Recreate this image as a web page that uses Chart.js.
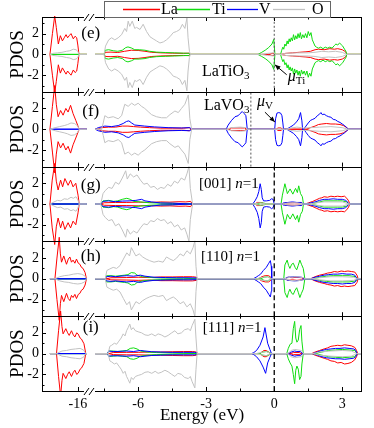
<!DOCTYPE html>
<html lang="en">
<head>
<meta charset="UTF-8">
<title>PDOS</title>
<script src="https://cdn.jsdelivr.net/npm/chart.js"></script>
<style>
  body { margin: 0; background: #fff; }
  #wrap { width: 374px; height: 428px; }
</style>
</head>
<body>
<div id="wrap"><canvas id="pdosChart" width="374" height="428"></canvas></div>
<script>
// ---- data: [energy (eV), spin-up PDOS]; spin-down is the mirror unless a *Dn fix is given ----
const panels = ['e', 'f', 'g', 'h', 'i'];
const speciesNames = ['La', 'Ti', 'V', 'O'];
const xTickValues = [-16, -6, -3, 0, 3];
const xMinorValues = [-7.5, -4.5, -1.5, 1.5];
const yTickValues = [-3, -2, -1, 0, 1, 2, 3];
const yLabelled = [-2, 0, 2];
const fermiLines = [['e', 0, 'dot'], ['f', -1.03, 'dot'], ['g', 0, 'dash'], ['h', 0, 'dash'], ['i', 0, 'dash']];

// (e) LaTiO3
const laE = [[-17.23,0],[-17.12,2.0],[-17.02,3.7],[-16.95,2.6],[-16.86,1.0],[-16.77,1.8],[-16.68,1.3],[-16.6,1.6],[-16.52,1.9],[-16.45,1.6],[-16.38,1.8],[-16.3,2.0],[-16.2,1.5],[-16.12,1.75],[-16.05,1.6],[-16.0,0.9],[-15.95,0],
  [-7.5,0],[-7.44,0.2],[-7.2,0.22],[-6.9,0.18],[-6.6,0.3],[-6.3,0.4],[-6.0,0.38],[-5.7,0.3],[-5.4,0.2],[-5.0,0.15],[-4.5,0.12],[-4.0,0.1],[-3.76,0.12],[-3.7,0],
  [-0.25,0],[-0.1,0.1],[0.0,0.1],[0.04,0],
  [0.3,0],[0.5,0.1],[0.8,0.15],[1.1,0.2],[1.4,0.25],[1.6,0.3],[1.8,0.45],[1.95,0.5],[2.2,0.45],[2.45,0.55],[2.65,0.5],[2.8,0.55],[3.0,0.45],[3.15,0.25],[3.2,0]];
const tiE = [[-7.5,0],[-7.45,0.4],[-7.3,0.45],[-7.1,0.35],[-6.9,0.3],[-6.7,0.4],[-6.55,0.65],[-6.45,0.72],[-6.3,0.62],[-6.15,0.45],[-5.95,0.45],[-5.7,0.4],[-5.5,0.3],[-5.2,0.22],[-4.8,0.18],[-4.4,0.15],[-4.0,0.12],[-3.76,0.1],[-3.7,0],
  [-0.72,0],[-0.55,0.2],[-0.4,0.4],[-0.25,0.65],[-0.1,1.0],[-0.02,1.45],[0.03,0],
  [0.28,0],[0.33,0.4],[0.38,0.7],[0.42,0.5],[0.47,1.0],[0.52,0.8],[0.57,1.3],[0.61,1.0],[0.66,1.5],[0.7,1.2],[0.75,1.6],[0.8,1.3],[0.85,1.9],[0.9,1.4],[0.95,1.8],[1.0,1.5],[1.05,2.0],[1.1,1.6],[1.15,2.1],[1.2,1.5],[1.26,1.9],[1.32,1.6],[1.38,2.0],[1.44,1.6],[1.5,2.2],[1.56,1.8],[1.62,2.1],[1.68,1.4],[1.74,1.1],[1.8,0.8],[1.86,0.7],[1.95,0.6],[2.05,0.7],[2.15,0.55],[2.25,0.7],[2.35,0.6],[2.45,0.7],[2.55,0.6],[2.65,0.85],[2.72,1.0],[2.8,0.9],[2.88,1.1],[2.95,0.95],[3.02,0.8],[3.1,0.5],[3.16,0.3],[3.2,0]];
const oE = [[-17.23,0],[-17.1,0.1],[-16.9,0.15],[-16.7,0.2],[-16.5,0.3],[-16.35,0.35],[-16.2,0.5],[-16.08,0.45],[-16.0,0.3],[-15.95,0],
  [-7.5,0],[-7.44,0.8],[-7.3,1.4],[-7.17,1.6],[-7.03,1.4],[-6.88,1.6],[-6.73,1.9],[-6.59,2.5],[-6.51,2.2],[-6.44,3.2],[-6.37,2.7],[-6.26,3.2],[-6.15,2.5],[-6.07,2.6],[-5.92,2.4],[-5.78,2.9],[-5.63,2.2],[-5.48,1.7],[-5.34,1.5],[-5.19,1.3],[-5.04,1.1],[-4.89,1.2],[-4.75,1.4],[-4.6,1.7],[-4.45,2.1],[-4.31,2.2],[-4.16,2.4],[-4.05,2.9],[-3.94,2.5],[-3.85,3.5],[-3.8,1.6],[-3.74,0.3],[-3.7,0],
  [-0.6,0],[-0.3,0.1],[0.0,0.15],[0.04,0],
  [0.3,0],[0.5,0.1],[1.0,0.15],[1.5,0.15],[1.8,0.2],[2.1,0.3],[2.4,0.25],[2.7,0.3],[3.0,0.2],[3.2,0]];

// (f) LaVO3
const laF = [[-17.23,0],[-17.12,2.2],[-17.02,4.2],[-16.95,2.4],[-16.87,1.2],[-16.76,1.8],[-16.65,1.35],[-16.53,2.0],[-16.43,1.65],[-16.32,2.3],[-16.21,1.5],[-16.09,0.85],[-15.94,0],
  [-7.8,0],[-7.6,0.15],[-7.3,0.2],[-7.0,0.2],[-6.7,0.3],[-6.45,0.3],[-6.2,0.25],[-5.9,0.2],[-5.5,0.15],[-5.0,0.1],[-4.5,0.1],[-4.0,0.1],[-3.75,0.15],[-3.68,0],
  [-2.0,0],[-1.9,0.12],[-1.5,0.12],[-1.3,0.12],[-1.22,0],
  [0.1,0],[0.15,0.12],[0.3,0.12],[0.36,0],
  [1.4,0],[1.6,0.15],[1.8,0.3],[1.95,0.45],[2.1,0.5],[2.3,0.55],[2.5,0.5],[2.7,0.5],[2.9,0.45],[3.05,0.35],[3.2,0.15],[3.27,0]];
const vF = [[-7.9,0],[-7.76,0.15],[-7.47,0.3],[-7.17,0.25],[-6.88,0.35],[-6.66,0.55],[-6.51,0.75],[-6.41,0.8],[-6.29,0.6],[-6.15,0.4],[-5.71,0.3],[-5.27,0.22],[-4.68,0.15],[-4.09,0.12],[-3.72,0.15],[-3.64,0],
  [-2.12,0],[-2.03,0.4],[-1.88,0.85],[-1.73,1.2],[-1.59,1.3],[-1.51,1.5],[-1.41,1.7],[-1.32,1.5],[-1.25,1.3],[-1.19,0],
  [0.02,0],[0.06,1.0],[0.12,1.55],[0.2,1.6],[0.28,1.55],[0.34,1.3],[0.38,0.6],[0.41,0],
  [0.55,0],[0.7,0.2],[0.85,0.4],[0.98,0.7],[1.08,1.0],[1.16,1.6],[1.22,0.8],[1.25,0],
  [1.3,0],[1.4,0.3],[1.5,0.6],[1.6,0.85],[1.7,0.95],[1.8,1.05],[1.9,1.3],[2.0,1.45],[2.06,1.6],[2.12,1.4],[2.2,1.45],[2.3,1.3],[2.4,1.2],[2.5,1.15],[2.6,0.95],[2.7,0.9],[2.8,0.75],[2.9,0.65],[3.0,0.5],[3.1,0.35],[3.2,0.15],[3.27,0]];
const oF = [[-17.23,0],[-17.0,0.15],[-16.8,0.25],[-16.6,0.35],[-16.45,0.45],[-16.3,0.6],[-16.15,0.55],[-16.02,0.35],[-15.94,0],
  [-7.61,0],[-7.54,0.6],[-7.47,1.3],[-7.32,1.1],[-7.1,1.2],[-6.88,1.0],[-6.73,1.3],[-6.59,2.4],[-6.44,2.2],[-6.29,2.5],[-6.15,2.3],[-6.0,2.5],[-5.85,2.2],[-5.71,2.0],[-5.56,1.7],[-5.41,1.4],[-5.19,1.2],[-4.97,1.1],[-4.75,1.1],[-4.6,1.4],[-4.38,1.75],[-4.23,1.6],[-4.09,2.0],[-3.94,2.4],[-3.79,3.3],[-3.72,1.0],[-3.64,0],
  [-2.1,0],[-1.9,0.15],[-1.5,0.2],[-1.25,0.15],[-1.2,0],
  [0.5,0],[0.7,0.1],[1.0,0.2],[1.2,0.15],[1.3,0.1],[1.6,0.15],[2.0,0.2],[2.5,0.25],[3.0,0.15],[3.25,0]];

// (g) [001] n=1
const laG = [[-17.23,0],[-17.13,2.3],[-17.02,3.9],[-16.95,2.2],[-16.87,1.35],[-16.76,2.3],[-16.67,1.65],[-16.57,2.45],[-16.43,1.8],[-16.32,2.3],[-16.21,1.65],[-16.09,2.0],[-15.99,0.85],[-15.94,0],
  [-7.65,0],[-7.5,0.12],[-7.0,0.15],[-6.5,0.15],[-6.0,0.18],[-5.5,0.15],[-5.0,0.2],[-4.6,0.18],[-4.2,0.22],[-3.9,0.2],[-3.68,0.25],[-3.62,0],
  [-0.85,0],[-0.75,0.15],[-0.6,0.15],[-0.5,0.12],[-0.45,0],
  [0.4,0],[0.5,0.1],[0.9,0.12],[1.2,0.1],[1.28,0],
  [1.35,0],[1.5,0.1],[1.7,0.25],[1.85,0.4],[2.0,0.55],[2.1,0.6],[2.2,0.7],[2.35,0.65],[2.5,0.75],[2.65,0.7],[2.8,0.75],[2.95,0.7],[3.1,0.75],[3.2,0.55],[3.28,0.3],[3.33,0]];
const tiG = [[-7.65,0],[-7.55,0.3],[-7.3,0.35],[-7.1,0.25],[-6.9,0.3],[-6.7,0.45],[-6.5,0.55],[-6.35,0.45],[-6.2,0.25],[-5.9,0.2],[-5.5,0.12],[-5.0,0.08],[-4.5,0.06],[-3.62,0],
  [-0.8,0],[-0.6,0.12],[-0.45,0.08],[-0.3,0],
  [0.3,0],[0.36,0.85],[0.47,1.95],[0.58,1.0],[0.7,1.45],[0.82,0.95],[0.94,1.5],[1.02,1.1],[1.08,1.75],[1.16,1.0],[1.24,0.7],[1.29,0],
  [1.5,0],[1.8,0.1],[2.0,0.2],[2.2,0.3],[2.5,0.3],[2.8,0.3],[3.0,0.3],[3.2,0.2],[3.3,0]];
const vG = [[-7.65,0],[-7.55,0.25],[-7.3,0.3],[-7.0,0.22],[-6.7,0.28],[-6.4,0.3],[-6.1,0.35],[-5.85,0.45],[-5.7,0.3],[-5.4,0.2],[-5.0,0.1],[-4.5,0.08],[-3.62,0],
  [-0.95,0],[-0.85,0.3],[-0.75,0.7],[-0.68,1.2],[-0.62,1.95],[-0.57,1.4],[-0.53,0.6],[-0.47,0.3],[-0.35,0.3],[-0.2,0.35],[-0.12,0.5],[-0.05,0.45],[0.0,0],
  [0.33,0],[0.4,0.1],[0.6,0.15],[0.8,0.2],[1.0,0.15],[1.2,0.15],[1.28,0],
  [1.4,0],[1.6,0.1],[1.8,0.2],[2.0,0.35],[2.2,0.45],[2.4,0.45],[2.6,0.5],[2.8,0.45],[3.0,0.45],[3.15,0.35],[3.25,0.15],[3.31,0]];
const vGdn = [[-0.95,0],[-0.85,-0.35],[-0.75,-0.8],[-0.68,-1.4],[-0.62,-2.3],[-0.57,-1.8],[-0.53,-0.7],[-0.47,-0.3],[-0.35,-0.25],[-0.2,-0.3],[-0.12,-0.45],[-0.05,-0.35],[0.0,0]];
const oG = [[-17.23,0],[-17.05,0.2],[-16.9,0.35],[-16.75,0.3],[-16.6,0.5],[-16.45,0.45],[-16.3,0.65],[-16.2,0.55],[-16.08,0.7],[-16.0,0.4],[-15.94,0],
  [-7.65,0],[-7.55,1.0],[-7.45,1.3],[-7.3,1.6],[-7.15,1.5],[-7.0,2.1],[-6.85,1.9],[-6.7,2.5],[-6.55,3.2],[-6.48,2.4],[-6.35,2.9],[-6.2,2.6],[-6.05,2.8],[-5.9,2.3],[-5.75,1.9],[-5.6,2.0],[-5.45,1.6],[-5.3,1.7],[-5.15,1.4],[-5.0,1.6],[-4.85,1.5],[-4.7,1.9],[-4.55,1.7],[-4.4,2.2],[-4.25,2.0],[-4.1,2.5],[-3.95,2.3],[-3.85,2.9],[-3.76,3.6],[-3.7,1.5],[-3.6,0],
  [-0.9,0],[-0.7,0.1],[-0.5,0.08],[-0.4,0],
  [0.4,0],[0.6,0.1],[1.0,0.12],[1.28,0],
  [1.5,0],[1.8,0.1],[2.2,0.2],[2.6,0.2],[3.0,0.2],[3.3,0]];

// (h) [110] n=1
const laH = [[-17.01,0],[-16.92,2.0],[-16.82,4.0],[-16.77,2.4],[-16.72,1.6],[-16.62,2.2],[-16.5,1.4],[-16.42,1.9],[-16.35,2.1],[-16.28,1.6],[-16.21,1.8],[-16.13,1.5],[-16.06,1.9],[-15.98,1.5],[-15.91,1.4],[-15.84,1.1],[-15.77,1.0],[-15.68,0.6],[-15.62,0],
  [-7.4,0],[-7.2,0.1],[-6.5,0.12],[-6.0,0.15],[-5.5,0.12],[-5.0,0.18],[-4.5,0.18],[-4.0,0.2],[-3.6,0.2],[-3.42,0.15],[-3.38,0],
  [-0.7,0],[-0.55,0.2],[-0.4,0.3],[-0.25,0.3],[-0.15,0.15],[-0.12,0],
  [0.5,0],[0.6,0.15],[0.8,0.1],[1.0,0.15],[1.2,0.1],[1.3,0],
  [1.6,0],[1.8,0.2],[2.0,0.35],[2.2,0.45],[2.35,0.55],[2.5,0.6],[2.65,0.7],[2.8,0.65],[2.95,0.75],[3.1,0.7],[3.25,0.75],[3.4,0.7],[3.55,0.65],[3.65,0.35],[3.7,0]];
const tiH = [[-7.45,0],[-7.4,0.3],[-7.2,0.3],[-7.0,0.25],[-6.8,0.3],[-6.6,0.35],[-6.45,0.4],[-6.3,0.6],[-6.15,0.55],[-6.05,0.35],[-5.8,0.2],[-5.4,0.12],[-5.0,0.08],[-4.0,0.05],[-3.42,0],
  [-0.6,0],[-0.45,0.15],[-0.3,0.2],[-0.2,0.1],[-0.12,0],
  [0.42,0],[0.47,1.33],[0.57,1.8],[0.63,1.3],[0.69,1.0],[0.77,1.4],[0.84,1.5],[0.92,1.1],[0.99,0.86],[1.06,1.3],[1.13,1.8],[1.2,1.4],[1.28,1.0],[1.35,0],
  [1.7,0],[2.0,0.15],[2.3,0.25],[2.6,0.3],[3.0,0.3],[3.3,0.3],[3.6,0.2],[3.68,0]];
const vH = [[-7.45,0],[-7.4,0.2],[-7.2,0.25],[-7.0,0.2],[-6.8,0.25],[-6.5,0.3],[-6.2,0.25],[-5.9,0.35],[-5.7,0.25],[-5.3,0.15],[-4.8,0.12],[-4.3,0.1],[-3.8,0.1],[-3.42,0.08],[-3.38,0],
  [-0.93,0],[-0.8,0.15],[-0.7,0.3],[-0.6,0.45],[-0.48,0.8],[-0.35,1.1],[-0.24,1.5],[-0.17,1.75],[-0.13,1.2],[-0.11,0],
  [0.45,0],[0.6,0.15],[0.9,0.2],[1.2,0.15],[1.35,0],
  [1.6,0],[1.8,0.15],[2.0,0.25],[2.2,0.35],[2.4,0.4],[2.6,0.45],[2.8,0.45],[3.0,0.5],[3.2,0.45],[3.4,0.45],[3.55,0.35],[3.65,0]];
const oH = [[-17.01,0],[-16.8,0.2],[-16.6,0.3],[-16.4,0.35],[-16.2,0.45],[-16.0,0.5],[-15.85,0.45],[-15.7,0.3],[-15.62,0],
  [-7.45,0],[-7.38,0.8],[-7.25,0.95],[-7.1,1.1],[-6.95,1.0],[-6.8,1.27],[-6.65,1.9],[-6.5,2.5],[-6.38,2.2],[-6.3,3.0],[-6.2,2.6],[-6.1,2.2],[-5.95,2.4],[-5.8,2.1],[-5.65,1.9],[-5.5,1.75],[-5.3,1.6],[-5.1,1.7],[-4.9,1.6],[-4.75,2.1],[-4.6,1.9],[-4.45,1.75],[-4.3,2.0],[-4.15,2.4],[-4.0,2.2],[-3.85,2.7],[-3.7,2.4],[-3.58,3.0],[-3.5,3.65],[-3.45,1.2],[-3.4,0],
  [-0.8,0],[-0.5,0.15],[-0.3,0.2],[-0.12,0],
  [0.45,0],[0.7,0.15],[1.0,0.2],[1.3,0.1],[1.35,0],
  [1.65,0],[2.0,0.1],[2.5,0.2],[3.0,0.2],[3.5,0.15],[3.68,0]];

// (i) [111] n=1
const laI = [[-16.94,0],[-16.85,2.2],[-16.76,4.1],[-16.7,2.6],[-16.65,1.9],[-16.53,2.4],[-16.45,2.0],[-16.38,1.75],[-16.28,2.2],[-16.2,1.8],[-16.13,1.6],[-16.05,2.0],[-15.99,1.9],[-15.9,1.5],[-15.84,1.4],[-15.73,0.95],[-15.65,0],
  [-7.3,0],[-7.1,0.1],[-6.5,0.12],[-6.0,0.12],[-5.5,0.15],[-5.0,0.15],[-4.5,0.18],[-4.0,0.2],[-3.6,0.2],[-3.42,0.15],[-3.38,0],
  [-0.65,0],[-0.55,0.15],[-0.45,0.3],[-0.35,0.3],[-0.25,0.15],[-0.18,0],
  [0.7,0],[0.85,0.1],[1.1,0.1],[1.2,0],
  [1.65,0],[1.8,0.15],[2.0,0.3],[2.2,0.45],[2.35,0.55],[2.5,0.7],[2.65,0.75],[2.8,0.8],[2.95,0.75],[3.1,0.85],[3.25,0.8],[3.4,0.75],[3.55,0.6],[3.63,0.3],[3.68,0]];
const laIdn = [[2.8,-0.9],[2.95,-0.85],[3.1,-1.0],[3.25,-0.95],[3.4,-0.85]];
const tiI = [[-7.35,0],[-7.3,0.25],[-7.1,0.25],[-6.9,0.2],[-6.7,0.25],[-6.5,0.3],[-6.35,0.5],[-6.2,0.55],[-6.05,0.45],[-5.9,0.25],[-5.6,0.15],[-5.2,0.1],[-4.5,0.06],[-3.42,0],
  [-0.65,0],[-0.5,0.15],[-0.35,0.2],[-0.2,0.1],[-0.12,0],
  [0.55,0],[0.62,0.5],[0.7,0.9],[0.78,1.0],[0.84,2.4],[0.9,3.1],[0.95,1.5],[1.0,1.1],[1.06,1.3],[1.12,2.3],[1.18,2.7],[1.22,1.2],[1.28,0],
  [1.8,0],[2.1,0.15],[2.4,0.3],[2.7,0.35],[3.0,0.4],[3.3,0.35],[3.55,0.3],[3.65,0]];
const tiIdn = [[0.55,0],[0.62,-0.5],[0.7,-0.9],[0.78,-1.2],[0.84,-2.0],[0.9,-2.9],[0.95,-1.6],[1.0,-1.2],[1.06,-1.5],[1.12,-2.5],[1.18,-2.2],[1.22,-1.0],[1.28,0]];
const vI = [[-7.35,0],[-7.3,0.25],[-7.1,0.2],[-6.8,0.22],[-6.5,0.25],[-6.2,0.2],[-5.9,0.3],[-5.7,0.25],[-5.4,0.18],[-5.0,0.15],[-4.5,0.12],[-4.0,0.12],[-3.5,0.12],[-3.42,0.08],[-3.38,0],
  [-1.0,0],[-0.9,0.1],[-0.78,0.3],[-0.63,0.8],[-0.49,1.6],[-0.41,2.5],[-0.29,1.0],[-0.19,0.4],[-0.12,0],
  [0.6,0],[0.75,0.15],[0.9,0.25],[1.0,0.2],[1.15,0.2],[1.25,0],
  [1.7,0],[1.9,0.15],[2.1,0.3],[2.3,0.4],[2.5,0.45],[2.7,0.5],[2.9,0.5],[3.1,0.55],[3.3,0.5],[3.5,0.45],[3.6,0.3],[3.65,0]];
const vIdn = [[-1.0,0],[-0.9,-0.1],[-0.78,-0.3],[-0.63,-0.7],[-0.49,-1.3],[-0.38,-1.9],[-0.29,-0.9],[-0.19,-0.35],[-0.12,0]];
const oI = [[-16.94,0],[-16.7,0.25],[-16.5,0.3],[-16.3,0.4],[-16.1,0.45],[-15.9,0.5],[-15.75,0.35],[-15.65,0],
  [-7.32,0],[-7.25,0.7],[-7.17,0.8],[-7.05,1.0],[-6.95,0.9],[-6.85,1.2],[-6.75,1.5],[-6.66,1.9],[-6.58,1.7],[-6.51,2.2],[-6.44,2.5],[-6.37,2.85],[-6.3,2.3],[-6.22,2.5],[-6.12,2.2],[-6.0,2.1],[-5.85,2.0],[-5.7,1.8],[-5.56,1.75],[-5.4,1.9],[-5.25,1.7],[-5.12,1.9],[-4.98,1.8],[-4.82,1.6],[-4.68,1.75],[-4.52,2.0],[-4.38,2.2],[-4.25,1.9],[-4.09,2.0],[-3.95,2.3],[-3.79,2.4],[-3.7,2.2],[-3.62,2.7],[-3.5,3.3],[-3.45,1.5],[-3.4,0],
  [-0.8,0],[-0.5,0.15],[-0.35,0.2],[-0.15,0],
  [0.6,0],[0.75,0.3],[0.9,0.4],[1.05,0.35],[1.2,0.3],[1.28,0],
  [1.7,0],[2.0,0.15],[2.5,0.25],[3.0,0.3],[3.4,0.25],[3.65,0]];

const curves = {
  e: {La: laE, Ti: tiE, O: oE},
  f: {La: laF, V: vF, O: oF},
  g: {La: laG, Ti: tiG, V: vG, O: oG},
  h: {La: laH, Ti: tiH, V: vH, O: oH},
  i: {La: laI, Ti: tiI, V: vI, O: oI}
};
const downFix = { g: {V: vGdn}, i: {V: vIdn, Ti: tiIdn, La: laIdn} };

// ---- axis break: the La 5p window is shifted next to the valence band ----
const breakShift = 7.34;
const breakU = -8.17;
const toU = e => e < -10 ? e + breakShift : e;
const fromU = u => u < -8 ? u - breakShift : u;
const leftRange = [-17.23, -15.6];
const mainRange = [-7.9, 3.87];

const colors = { La: '#ff0000', Ti: '#10dd10', V: '#0000ff', O: '#c2c2c2' };
const serif = "'Liberation Serif', 'Times New Roman', serif";

function withBase(pts, range) {
  const out = pts.slice();
  if (!out.length || out[0][0] > range[0]) out.unshift([range[0], 0]);
  if (out[out.length - 1][0] < range[1]) out.push([range[1], 0]);
  return out;
}

function downOf(up, fix) {
  const mirrored = up.map(([e, v]) => [e, -v]);
  if (!fix) return mirrored;
  const a = fix[0][0], b = fix[fix.length - 1][0];
  return mirrored.filter(([e]) => e < a || e > b).concat(fix).sort((p, q) => p[0] - q[0]);
}

function toPoints(pts) {
  const left = withBase(pts.filter(p => p[0] < -10), leftRange);
  const main = withBase(pts.filter(p => p[0] >= -10), mainRange);
  const res = left.map(([e, v]) => ({x: toU(e), y: v}));
  res.push({x: toU(left[left.length - 1][0]), y: null});
  main.forEach(([e, v]) => res.push({x: e, y: v}));
  return res;
}

const datasets = [];
fermiLines.forEach(([p, e, kind]) => {
  datasets.push({
    data: [{x: e, y: -3.6}, {x: e, y: 3.6}],
    yAxisID: 'y' + p,
    borderColor: kind === 'dot' ? '#555' : '#000',
    borderWidth: kind === 'dot' ? 1 : 1.3,
    borderDash: kind === 'dot' ? [2, 2] : [5, 3],
    clip: false
  });
});
panels.forEach(p => {
  ['O', 'V', 'Ti', 'La'].forEach(s => {
    const up = curves[p][s];
    if (!up) return;
    const fix = downFix[p] && downFix[p][s];
    const pts = toPoints(up);
    pts.push({x: pts[pts.length - 1].x, y: null});
    const all = pts.concat(toPoints(downOf(up, fix)));
    datasets.push({
      label: s,
      data: all,
      yAxisID: 'y' + p,
      borderColor: colors[s],
      borderWidth: 1,
      clip: {left: 0, right: 0, top: p === 'e' ? 1 : 80, bottom: p === 'i' ? 1 : 80}
    });
  });
});

// ---- scales ----
const scales = {
  x: {
    type: 'linear',
    position: 'bottom',
    min: -10.24,
    max: 3.87,
    afterBuildTicks: sc => {
      sc.ticks = xTickValues.concat(xMinorValues).map(toU).sort((a, b) => a - b).map(v => ({value: v}));
    },
    afterFit: sc => { sc.height = 37; },
    grid: {display: false, drawTicks: false},
    border: {display: false},
    ticks: {
      autoSkip: false, maxRotation: 0, padding: 5, color: '#000',
      font: {family: serif, size: 14},
      callback: v => {
        const e = Math.round(fromU(v) * 10) / 10;
        return xTickValues.includes(e) ? String(e) : '';
      }
    },
    title: {display: true, text: 'Energy (eV)', color: '#000', font: {family: serif, size: 17}, padding: {top: 0, bottom: 2}}
  }
};
panels.forEach((p, k) => {
  scales['y' + p] = {
    type: 'linear',
    position: 'left',
    stack: 'pdos',
    stackWeight: 1,
    weight: panels.length - k,
    min: -3.6,
    max: 3.6,
    afterBuildTicks: sc => { sc.ticks = yTickValues.map(v => ({value: v})); },
    afterFit: sc => { sc.width = 42; },
    grid: {display: false, drawTicks: false},
    border: {display: false},
    ticks: {
      autoSkip: false, padding: 3, color: '#000',
      font: {family: serif, size: 14},
      callback: v => yLabelled.includes(v) ? String(v) : ''
    },
    title: {display: true, text: 'PDOS', color: '#000', font: {family: serif, size: 19}, padding: {top: 7, bottom: 0}}
  };
});

// ---- frames, inner ticks, break marks, legend and labels ----
function subText(ctx, x, y, parts) {
  parts.forEach(([t, font, dy]) => {
    ctx.font = font;
    ctx.fillText(t, x, y + (dy || 0));
    x += ctx.measureText(t).width;
  });
}

const decor = {
  id: 'decor',
  afterDatasetsDraw(chart) {
    const {ctx, chartArea: ca, scales: sc} = chart;
    const x = sc.x;
    const bx = Math.round(x.getPixelForValue(breakU));
    ctx.save();
    ctx.setLineDash([]);
    ctx.strokeStyle = '#000';
    ctx.lineWidth = 1;
    const edges = [sc.ye.top].concat(panels.map(p => sc['y' + p].bottom)).map(v => Math.round(v) + 0.5);
    ctx.beginPath();
    edges.forEach(y => {
      ctx.moveTo(ca.left, y); ctx.lineTo(bx - 5, y);
      ctx.moveTo(bx + 6, y); ctx.lineTo(ca.right, y);
    });
    ctx.moveTo(Math.round(ca.left) + 0.5, edges[0]); ctx.lineTo(Math.round(ca.left) + 0.5, edges[5]);
    ctx.moveTo(Math.round(ca.right) - 0.5, edges[0]); ctx.lineTo(Math.round(ca.right) - 0.5, edges[5]);
    ctx.stroke();

    // break marks
    ctx.beginPath();
    edges.forEach(y => {
      ctx.moveTo(bx - 5, y + 3.5); ctx.lineTo(bx, y - 3.5);
      ctx.moveTo(bx, y + 3.5); ctx.lineTo(bx + 5, y - 3.5);
    });
    ctx.stroke();

    // inward ticks
    ctx.beginPath();
    panels.forEach(p => {
      const ys = sc['y' + p];
      x.ticks.forEach(t => {
        const px = Math.round(x.getPixelForValue(t.value)) + 0.5;
        const len = t.label ? 4 : 2.5;
        ctx.moveTo(px, ys.bottom); ctx.lineTo(px, ys.bottom - len);
        ctx.moveTo(px, ys.top); ctx.lineTo(px, ys.top + len);
      });
      ys.ticks.forEach(t => {
        const py = Math.round(ys.getPixelForValue(t.value)) + 0.5;
        const len = t.label ? 4 : 2.5;
        ctx.moveTo(ca.left, py); ctx.lineTo(ca.left + len, py);
      });
    });
    ctx.stroke();

    const P = (p, u, v) => [x.getPixelForValue(u), sc['y' + p].getPixelForValue(v)];
    ctx.fillStyle = '#000';
    ctx.textBaseline = 'middle';
    ctx.textAlign = 'center';
    ctx.font = '17px ' + serif;
    [['e', 2.04], ['f', 1.73], ['g', 1.73], ['h', 2.17], ['i', 2.53]].forEach(([p, v]) => {
      const [px, py] = P(p, -8.09, v);
      ctx.fillText('(' + p + ')', px, py);
    });

    ctx.textAlign = 'left';
    ctx.textBaseline = 'alphabetic';
    const f16 = '16px ' + serif, f11 = '11px ' + serif, f15 = '15px ' + serif, fi15 = 'italic 15px ' + serif;
    let [tx, ty] = P('e', -3.19, -2.12);
    subText(ctx, tx, ty, [['LaTiO', f16], ['3', f11, 3]]);
    [tx, ty] = P('f', -3.1, 1.83);
    subText(ctx, tx, ty, [['LaVO', f16], ['3', f11, 3]]);
    [['g', '[001] ', -3.32, 1.52], ['h', '[110] ', -3.23, 1.7], ['i', '[111] ', -3.15, 2.06]].forEach(([p, t, u, v]) => {
      const [qx, qy] = P(p, u, v);
      subText(ctx, qx, qy, [[t, f15], ['n', fi15], ['=1', f15]]);
    });
    [tx, ty] = P('e', 0.6, -2.53);
    subText(ctx, tx, ty, [['\u03bc', 'italic 16px ' + serif], ['Ti', f11, 3]]);
    [tx, ty] = P('f', -0.76, 2.2);
    subText(ctx, tx, ty, [['\u03bc', 'italic 16px ' + serif], ['V', f11, 3]]);

    // arrows
    const arrow = (a, b) => {
      const ang = Math.atan2(b[1] - a[1], b[0] - a[0]);
      ctx.beginPath(); ctx.moveTo(a[0], a[1]); ctx.lineTo(b[0], b[1]); ctx.stroke();
      ctx.beginPath();
      ctx.moveTo(b[0], b[1]);
      ctx.lineTo(b[0] - 6 * Math.cos(ang - 0.4), b[1] - 6 * Math.sin(ang - 0.4));
      ctx.lineTo(b[0] - 6 * Math.cos(ang + 0.4), b[1] - 6 * Math.sin(ang + 0.4));
      ctx.closePath(); ctx.fill();
    };
    arrow(P('e', 0.55, -1.96), P('e', 0.03, -1.0));
    arrow(P('f', -0.41, 1.64), P('f', 0.03, 0.69));

    // legend box
    ctx.fillStyle = '#fff';
    ctx.fillRect(104, 1, 226, 16);
    ctx.strokeStyle = '#666';
    ctx.strokeRect(104.5, 1.5, 226, 16);
    const items = [['La', 123, 160, 161], ['Ti', 177, 210, 212], ['V', 227, 258, 259], ['O', 273, 305, 312]];
    ctx.font = f16;
    ctx.textBaseline = 'middle';
    ctx.lineWidth = 1.3;
    items.forEach(([s, x0, x1, tx0]) => {
      ctx.strokeStyle = colors[s];
      ctx.beginPath(); ctx.moveTo(x0, 9.5); ctx.lineTo(x1, 9.5); ctx.stroke();
      ctx.fillStyle = '#000';
      ctx.fillText(s, tx0, 10);
    });
    ctx.restore();
  }
};

new Chart(document.getElementById('pdosChart'), {
  type: 'line',
  data: {datasets},
  options: {
    responsive: false,
    animation: false,
    devicePixelRatio: 1,
    events: [],
    layout: {padding: {top: 17, right: 12, left: 0, bottom: 0}},
    elements: {point: {radius: 0}, line: {tension: 0}},
    plugins: {legend: {display: false}, tooltip: {enabled: false}},
    scales
  },
  plugins: [decor]
});
</script>
</body>
</html>
